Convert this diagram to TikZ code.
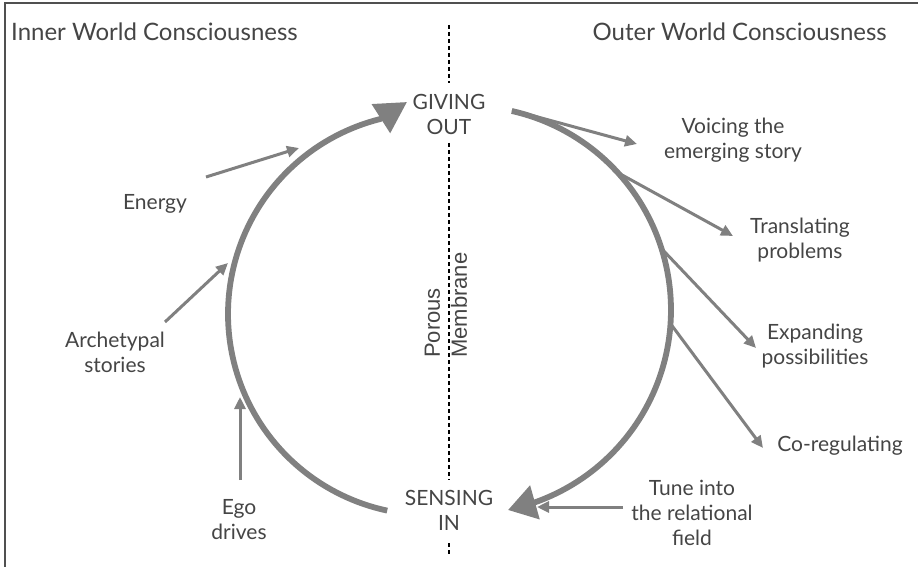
\documentclass[tikz,border=0pt]{standalone}
\usepackage{fontspec}
\setmainfont{Lato}
\newfontfamily\memfont{Liberation Sans}
\usetikzlibrary{arrows.meta}
\definecolor{txt}{HTML}{454545}
\definecolor{arr}{HTML}{808080}
\definecolor{frame}{HTML}{505050}
\begin{document}
\begin{tikzpicture}[x=1pt,y=-1pt,
  lbl/.style={text=txt, font=\fontsize{21}{25}\selectfont, align=center, inner sep=0pt},
  ttl/.style={text=txt, font=\fontsize{24}{28}\selectfont, inner sep=0pt},
  memlbl/.style={text=txt, font=\memfont\fontsize{22}{27}\selectfont, align=left, inner sep=0pt},
  cyc/.style={draw=arr, line width=5.8pt},
  thinarrow/.style={draw=arr, line width=3pt, -{Triangle[length=12pt,width=11pt]}},
  membrane/.style={draw=black, line width=1.4pt, dash pattern=on 4pt off 3pt}]
\useasboundingbox (0,0) rectangle (918,567);
\fill[white] (0,0) rectangle (918,567);
\draw[draw=frame, line width=1.5pt] (5,567) -- (5,3) -- (918,3);

% titles
\node[ttl, anchor=base west] (inner) at (11,41) {Inner World Consciousness};
\node[ttl, anchor=base east] (outer) at (887,41) {Outer World Consciousness};

% central nodes
\node[lbl] (give) at (449,114) {GIVING\\OUT};
\node[lbl] (sense) at (449,510) {SENSING\\IN};
\node[memlbl, rotate=90, anchor=west] (mem) at (446,358) {Porous\\Membrane};

% membrane dashed line
\coordinate (m1) at (449,25);
\coordinate (m2) at (449,83);
\coordinate (m3) at (449,143);
\coordinate (m4) at (449,480);
\coordinate (m5) at (449,543);
\coordinate (m6) at (449,556);
\draw[membrane] (m1) -- (m2);
\draw[membrane] (m3) -- (m4);
\draw[membrane] (m5) -- (m6);

% main cycle
\coordinate (tipG) at (407,102);
\coordinate (tipS) at (508,510);
\draw[cyc, -{Triangle[length=31pt,width=33pt]}]
  plot[domain=258:104, samples=90] ({429+201*cos(\x)},{314-201*sin(\x)}) -- (tipG);
\draw[cyc, -{Triangle[length=28pt,width=34pt]}]
  plot[domain=77.3:-70.6, samples=90] ({467+204*cos(\x)},{310-204*sin(\x)}) -- (tipS);

% labels
\node[lbl] (voice) at (733,140) {Voicing the\\emerging story};
\node[lbl] (trans) at (800,240) {Translating\\problems};
\node[lbl] (expand) at (815,346) {Expanding\\possibilities};
\node[lbl] (coreg) at (840,446) {Co-regulating};
\node[lbl] (tune) at (692,513) {Tune into\\the relational\\field};
\node[lbl] (energy) at (155,204) {Energy};
\node[lbl] (arch) at (115,352) {Archetypal\\stories};
\node[lbl] (ego) at (239,520) {Ego\\drives};

% connector end points
\coordinate (v0) at (512,110);   \coordinate (v1) at (637,144);
\coordinate (t0) at (613,170);   \coordinate (t1) at (733,236);
\coordinate (e0) at (660,247);   \coordinate (e1) at (756,348);
\coordinate (c0) at (670,323);   \coordinate (c1) at (763,448);
\coordinate (u0) at (623,507);   \coordinate (u1) at (537,507);
\coordinate (n0) at (206,177);   \coordinate (n1) at (299,148);
\coordinate (a0) at (165,322);   \coordinate (a1) at (228,263);
\coordinate (g0) at (240,480);   \coordinate (g1) at (240,397);

\draw[thinarrow] (v0) -- (v1);
\draw[thinarrow] (t0) -- (t1);
\draw[thinarrow] (e0) -- (e1);
\draw[thinarrow] (c0) -- (c1);
\draw[thinarrow] (u0) -- (u1);
\draw[thinarrow] (n0) -- (n1);
\draw[thinarrow] (a0) -- (a1);
\draw[thinarrow] (g0) -- (g1);
\end{tikzpicture}
\end{document}
